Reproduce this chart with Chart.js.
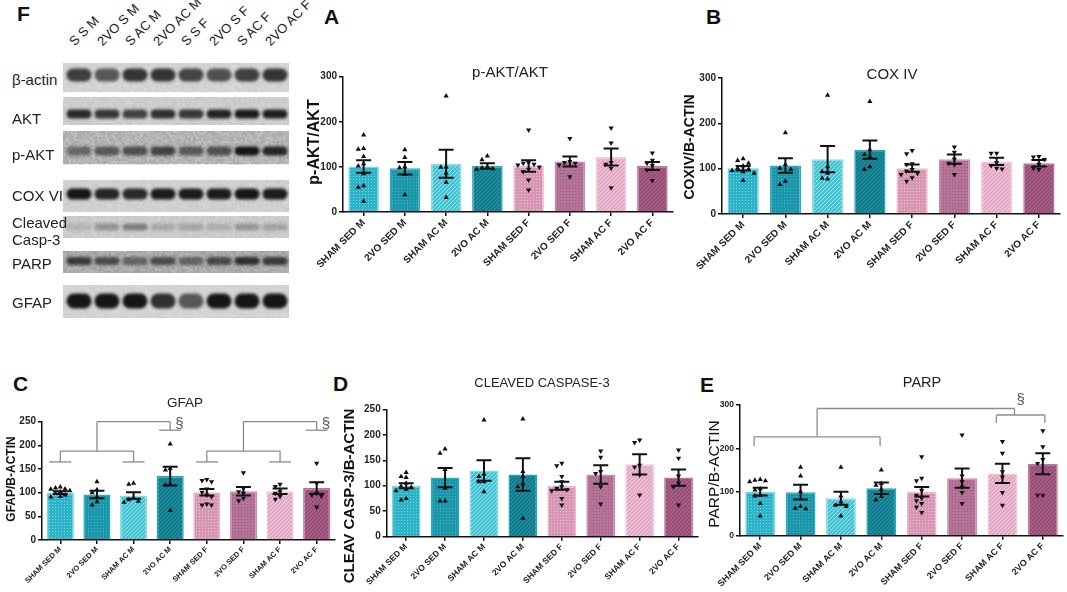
<!DOCTYPE html>
<html>
<head>
<meta charset="utf-8">
<script src="https://cdn.jsdelivr.net/npm/chart.js@4.4.1/dist/chart.umd.min.js"></script>
<style>
  body { margin: 0; width: 1067px; height: 592px; overflow: hidden; position: relative; background: #fff;
         font-family: "Liberation Sans", Arial, Helvetica, sans-serif; color: #111; }
  .box { position: absolute; }
  .letter { position: absolute; font-weight: bold; font-size: 21px; line-height: 1; }
  .lane { position: absolute; font-size: 13px; line-height: 13px; white-space: nowrap;
          transform: rotate(-45deg); transform-origin: 0 100%; color: #222; }
  .row { position: absolute; left: 12px; font-size: 15px; line-height: 17px; color: #222; }
</style>
</head>
<body>
<div class="letter" style="left:17px;top:3px">F</div>
<div class="letter" style="left:324px;top:6px">A</div>
<div class="letter" style="left:706px;top:6px">B</div>
<div class="letter" style="left:13px;top:373px">C</div>
<div class="letter" style="left:333px;top:373px">D</div>
<div class="letter" style="left:700px;top:374px">E</div>
<canvas id="blot" class="box" width="235" height="262" style="left:60px;top:60px"></canvas>

<script>
const groups = ['SHAM SED M', '2VO SED M', 'SHAM AC M', '2VO AC M', 'SHAM SED F', '2VO SED F', 'SHAM AC F', '2VO AC F'];

// A: p-AKT/AKT
const aktMean = [101, 97, 107, 102, 102, 112, 122, 102];
const aktSem = [14, 14, 31, 6, 13, 11, 19, 9];
const aktPts = [
  [171, 141, 139, 123, 107, 102, 85, 58, 55, 24],
  [138, 121, 100, 98, 83, 38],
  [257, 100, 99, 86, 66, 32],
  [124, 116, 100, 98, 96, 95],
  [182, 110, 108, 106, 104, 100, 95, 89, 71, 49],
  [163, 112, 110, 108, 104, 78],
  [186, 153, 110, 106, 97, 54],
  [131, 115, 108, 103, 93, 70]
];

// B: COX IV
const coxMean = [101, 107, 121, 142, 101, 121, 116, 112];
const coxSem = [5, 16, 29, 20, 8, 10, 8, 7];
const coxPts = [
  [122, 118, 112, 106, 101, 99, 96, 93, 90, 74],
  [179, 109, 101, 98, 72, 65],
  [262, 104, 94, 90, 79, 77],
  [248, 142, 131, 127, 104, 98],
  [140, 133, 111, 109, 98, 95, 90, 87, 80, 72],
  [148, 136, 121, 112, 109, 87],
  [134, 134, 113, 107, 101, 99],
  [127, 126, 120, 110, 101, 98]
];

// C: GFAP
const gfapMean = [100, 96, 94, 135, 101, 103, 103, 110];
const gfapSem = [3, 8, 7, 20, 7, 9, 6, 12];
const gfapPts = [
  [112, 110, 108, 107, 104, 102, 99, 95, 92, 91],
  [123, 106, 100, 91, 81, 74],
  [120, 118, 88, 85, 82, 80],
  [203, 151, 148, 118, 116, 63],
  [128, 126, 123, 108, 101, 95, 92, 76, 74, 74],
  [142, 109, 102, 99, 88, 83],
  [118, 113, 102, 99, 92, 86],
  [162, 120, 99, 95, 93, 70]
];

// D: cleaved caspase-3
const caspMean = [100, 116, 130, 122, 100, 122, 142, 116];
const caspSem = [5, 19, 20, 32, 8, 18, 20, 16];
const caspPts = [
  [126, 118, 116, 105, 99, 97, 93, 90, 75, 72],
  [172, 164, 132, 95, 70, 70],
  [229, 123, 118, 108, 108, 88],
  [231, 128, 118, 104, 98, 36],
  [144, 139, 118, 108, 98, 95, 92, 90, 75, 62],
  [168, 156, 128, 124, 98, 64],
  [190, 185, 140, 137, 121, 82],
  [170, 154, 119, 105, 98, 62]
];

// E: PARP
const parpMean = [101, 100, 86, 109, 101, 132, 143, 165];
const parpSem = [9, 17, 15, 13, 11, 22, 22, 24];
const parpPts = [
  [129, 127, 126, 124, 108, 105, 93, 91, 74, 45],
  [157, 137, 101, 67, 63, 62],
  [157, 91, 78, 70, 67, 45],
  [151, 120, 116, 106, 90, 82],
  [181, 132, 126, 104, 93, 86, 80, 74, 66, 53],
  [231, 137, 124, 112, 99, 74],
  [216, 189, 147, 135, 99, 70],
  [241, 204, 175, 166, 93, 93]
];

// significance brackets, [group index, value] -> [group index, value]
const gfapBrackets = [
  [-0.3, 165, 0.3, 165], [0, 165, 0, 188], [2, 165, 2, 188], [1.7, 165, 2.3, 165], [0, 188, 2, 188],
  [1, 188, 1, 250], [1, 250, 3, 250], [3, 250, 3, 232], [2.7, 232, 3.3, 232],
  [3.7, 165, 4.3, 165], [4, 165, 4, 188], [6, 165, 6, 188], [5.7, 165, 6.3, 165], [4, 188, 6, 188],
  [5, 188, 5, 250], [5, 250, 7, 250], [7, 250, 7, 232], [6.7, 232, 7.3, 232]
];
const gfapMarks = [[3.25, 246], [7.25, 246]];
const parpBrackets = [
  [-0.15, 206, -0.15, 227], [-0.15, 227, 2.97, 227], [2.97, 227, 2.97, 206], [1.41, 227, 1.41, 292],
  [1.41, 292, 6.3, 292], [6.3, 292, 6.3, 277], [5.85, 277, 7.05, 277], [5.85, 277, 5.85, 259], [7.05, 277, 7.05, 259]
];
const parpMarks = [[6.45, 311]];

const fam = '"Liberation Sans", Arial, Helvetica, sans-serif';

const palette = [
  { kind: 'dots', base: '#2bb4c7', mark: '#7dd3df', edge: '#72d6e3' },
  { kind: 'dots', base: '#1996aa', mark: '#48b2c2', edge: '#2fabbe' },
  { kind: 'stripes', base: '#41c3d3', mark: '#9ae3ec', edge: '#86dde8' },
  { kind: 'stripes', base: '#1a8b9d', mark: '#0f6b7a', edge: '#25a6b9' },
  { kind: 'dots', base: '#d795b4', mark: '#f2c6da', edge: '#ecb9cf' },
  { kind: 'dots', base: '#b5739a', mark: '#9a5a80', edge: '#c98cae' },
  { kind: 'stripes', base: '#e4a6c2', mark: '#f7d6e5', edge: '#f2c8da' },
  { kind: 'stripes', base: '#a65b85', mark: '#884569', edge: '#bb7399' }
];

function dots(ctx, base, mark) {
  const t = document.createElement('canvas');
  t.width = t.height = 3;
  const g = t.getContext('2d');
  g.fillStyle = base; g.fillRect(0, 0, 3, 3);
  g.fillStyle = mark; g.fillRect(1, 1, 1, 1);
  return ctx.createPattern(t, 'repeat');
}

function stripes(ctx, base, mark) {
  const t = document.createElement('canvas');
  t.width = t.height = 4;
  const g = t.getContext('2d');
  g.fillStyle = base; g.fillRect(0, 0, 4, 4);
  g.fillStyle = mark;
  for (let k = 0; k < 4; k++) g.fillRect(k, 3 - k, 1, 1);
  return ctx.createPattern(t, 'repeat');
}

// simple beeswarm: push close values sideways
function spread(vals, yMax) {
  const placed = [];
  const slots = [0, -0.13, 0.13, -0.26, 0.26, -0.36, 0.36];
  return vals.map(v => {
    const dx = slots.find(s => !placed.some(p => p.dx === s && Math.abs(p.v - v) < yMax * 0.04));
    const use = dx === undefined ? 0 : dx;
    placed.push({ v, dx: use });
    return use;
  });
}

function pointData(pts, yMax, female) {
  const out = [];
  pts.forEach((vals, i) => {
    if ((i >= 4) !== female) return;
    const dx = spread(vals, yMax);
    vals.forEach((v, k) => out.push({ x: i + dx[k], y: v }));
  });
  return out;
}

function makePanel(box, area, cfg) {
  const yw = area.l - box.x, pt = area.t - box.y, pr = box.x + box.w - area.r, xh = box.y + box.h - area.b;
  const cv = document.createElement('canvas');
  cv.className = 'box';
  cv.width = box.w; cv.height = box.h;
  cv.style.cssText = `left:${box.x}px;top:${box.y}px;width:${box.w}px;height:${box.h}px`;
  document.body.appendChild(cv);
  const ctx = cv.getContext('2d');
  const fills = palette.map(p => p.kind === 'dots' ? dots(ctx, p.base, p.mark) : stripes(ctx, p.base, p.mark));

  const overlay = {
    id: 'overlay',
    afterDatasetsDraw(chart) {
      const c = chart.ctx, xs = chart.scales.x, ys = chart.scales.y;
      c.save();
      c.strokeStyle = '#111';
      c.lineWidth = 2;
      cfg.mean.forEach((m, i) => {
        const px = xs.getPixelForValue(i);
        const top = ys.getPixelForValue(m + cfg.sem[i]), bot = ys.getPixelForValue(m - cfg.sem[i]);
        c.beginPath();
        c.moveTo(px, top); c.lineTo(px, bot);
        c.moveTo(px - 7.5, top); c.lineTo(px + 7.5, top);
        c.moveTo(px - 7.5, bot); c.lineTo(px + 7.5, bot);
        c.stroke();
      });
      c.strokeStyle = '#8c8c8c';
      c.lineWidth = 1.3;
      (cfg.brackets || []).forEach(s => {
        c.beginPath();
        c.moveTo(xs.getPixelForValue(s[0]), ys.getPixelForValue(s[1]));
        c.lineTo(xs.getPixelForValue(s[2]), ys.getPixelForValue(s[3]));
        c.stroke();
      });
      c.fillStyle = '#555';
      c.font = `15px ${fam}`;
      c.textAlign = 'center';
      c.textBaseline = 'middle';
      (cfg.marks || []).forEach(([i, v]) => c.fillText('§', xs.getPixelForValue(i), ys.getPixelForValue(v)));
      c.restore();
    },
    afterDraw(chart) {
      const c = chart.ctx;
      c.save();
      c.textAlign = 'center';
      c.textBaseline = 'middle';
      c.fillStyle = '#222';
      c.font = `${cfg.titleSize}px ${fam}`;
      c.fillText(cfg.title, cfg.titlePos[0] - box.x, cfg.titlePos[1] - box.y);
      c.translate(cfg.yTitlePos[0] - box.x, cfg.yTitlePos[1] - box.y);
      c.rotate(-Math.PI / 2);
      c.fillStyle = '#111';
      c.font = `${cfg.yTitleFont} ${fam}`;
      c.fillText(cfg.yTitle, 0, 0);
      c.restore();
    }
  };

  const pointStyle = { pointStyle: 'triangle', pointRadius: 3, backgroundColor: '#111', borderWidth: 0, order: 1, clip: false };

  new Chart(cv, {
    type: 'bar',
    data: {
      datasets: [
        { type: 'bar', data: cfg.mean.map((m, i) => ({ x: i, y: m })), backgroundColor: fills,
          borderColor: palette.map(p => p.edge), borderWidth: 1.5, barPercentage: 0.74, categoryPercentage: 1, order: 2 },
        Object.assign({ type: 'scatter', data: pointData(cfg.pts, cfg.yMax, false) }, pointStyle),
        Object.assign({ type: 'scatter', data: pointData(cfg.pts, cfg.yMax, true), rotation: 180 }, pointStyle)
      ]
    },
    options: {
      responsive: false,
      animation: false,
      layout: { padding: { top: pt, right: pr, left: 0, bottom: 0 } },
      plugins: { legend: { display: false }, tooltip: { enabled: false } },
      scales: {
        x: {
          type: 'linear', min: -0.5, max: 7.5, offset: false,
          afterBuildTicks: s => { s.ticks = groups.map((g, i) => ({ value: i })); },
          grid: { offset: false, drawOnChartArea: false, tickLength: 4, color: '#111', lineWidth: 1.5 },
          border: { color: '#111', width: 1.5 },
          ticks: { autoSkip: false, minRotation: 45, maxRotation: 45, padding: 1, color: '#222',
                   callback: (v, i) => groups[i],
                   font: { family: fam, weight: 'bold', size: cfg.xFont } },
          afterFit: s => { s.height = xh; }
        },
        y: {
          min: 0, max: cfg.yMax,
          ticks: { stepSize: cfg.step, padding: 2, color: '#222', font: { family: fam, weight: 'bold', size: cfg.yFont } },
          grid: { drawOnChartArea: false, tickLength: 4, color: '#111', lineWidth: 1.5 },
          border: { color: '#111', width: 1.5 },
          afterFit: s => { s.width = yw; }
        }
      }
    },
    plugins: [overlay]
  });
}

makePanel({ x: 295, y: 55, w: 385, h: 220 }, { l: 343, t: 76.7, r: 673, b: 212 }, {
  mean: aktMean, sem: aktSem, pts: aktPts, yMax: 300, step: 100, xFont: 10, yFont: 10,
  title: 'p-AKT/AKT', titleSize: 15, titlePos: [510, 73],
  yTitle: 'p-AKT/AKT', yTitleFont: 'bold 16px', yTitlePos: [315, 142]
});

makePanel({ x: 675, y: 55, w: 392, h: 220 }, { l: 722, t: 78, r: 1060, b: 214 }, {
  mean: coxMean, sem: coxSem, pts: coxPts, yMax: 300, step: 100, xFont: 10, yFont: 10,
  title: 'COX IV', titleSize: 15, titlePos: [892, 75],
  yTitle: 'COXIV/B-ACTIN', yTitleFont: 'bold 14px', yTitlePos: [690, 147]
});

makePanel({ x: 0, y: 395, w: 340, h: 197 }, { l: 42, t: 421.7, r: 335, b: 540 }, {
  mean: gfapMean, sem: gfapSem, pts: gfapPts, yMax: 250, step: 50, xFont: 7.5, yFont: 10,
  title: 'GFAP', titleSize: 13.5, titlePos: [185, 403],
  yTitle: 'GFAP/B-ACTIN', yTitleFont: 'bold 12px', yTitlePos: [12, 479],
  brackets: gfapBrackets, marks: gfapMarks
});

makePanel({ x: 340, y: 375, w: 362, h: 217 }, { l: 386.7, t: 409.3, r: 698, b: 536.7 }, {
  mean: caspMean, sem: caspSem, pts: caspPts, yMax: 250, step: 50, xFont: 8.5, yFont: 10,
  title: 'CLEAVED CASPASE-3', titleSize: 13, titlePos: [542, 383],
  yTitle: 'CLEAV CASP-3/B-ACTIN', yTitleFont: 'bold 15px', yTitlePos: [350, 496]
});

makePanel({ x: 702, y: 375, w: 365, h: 217 }, { l: 740, t: 405, r: 1065, b: 535.7 }, {
  mean: parpMean, sem: parpSem, pts: parpPts, yMax: 300, step: 100, xFont: 9, yFont: 8.5,
  title: 'PARP', titleSize: 14.5, titlePos: [922, 383],
  yTitle: 'PARP/B-ACTIN', yTitleFont: '15.5px', yTitlePos: [715, 474],
  brackets: parpBrackets, marks: parpMarks
});

// panel F: western blot strips (picture, not data)
const lanes = ['S S M', '2VO S M', 'S AC M', '2VO AC M', 'S S F', '2VO S F', 'S AC F', '2VO AC F'];
const blotRows = [
  { label: 'β-actin', ly: 79, y0: 63, y1: 92, band: 75, bh: 13, bg: '#d9d9d9', grain: 0.05, ink: [0.75, 0.62, 0.8, 0.8, 0.72, 0.66, 0.74, 0.8] },
  { label: 'AKT', ly: 118, y0: 97, y1: 125, band: 114, bh: 9, bg: '#d4d4d4', grain: 0.06, ink: [0.85, 0.78, 0.72, 0.82, 0.78, 0.88, 0.92, 0.9] },
  { label: 'p-AKT', ly: 154, y0: 131, y1: 164, band: 151, bh: 9, bg: '#c2c2c2', grain: 0.14, ink: [0.45, 0.55, 0.6, 0.68, 0.55, 0.6, 0.95, 0.85] },
  { label: 'COX VI', ly: 195, y0: 180, y1: 212, band: 194, bh: 11, bg: '#d6d6d6', grain: 0.05, ink: [0.95, 0.88, 0.85, 0.92, 0.92, 0.92, 0.95, 0.92] },
  { label: 'Cleaved<br>Casp-3', ly: 231, y0: 216, y1: 238, band: 227, bh: 7, bg: '#d2d2d2', grain: 0.06, ink: [0.12, 0.28, 0.4, 0.18, 0.2, 0.16, 0.28, 0.22] },
  { label: 'PARP', ly: 263, y0: 251, y1: 273, band: 261, bh: 8, bg: '#b8b8b8', grain: 0.14, ink: [0.7, 0.6, 0.45, 0.6, 0.45, 0.62, 0.78, 0.72] },
  { label: 'GFAP', ly: 302, y0: 285, y1: 318, band: 301, bh: 15, bg: '#d8d8d8', grain: 0.04, ink: [0.95, 0.95, 0.95, 0.82, 0.62, 0.95, 0.95, 0.95] }
];

function drawBlot() {
  const g = document.getElementById('blot').getContext('2d');
  g.translate(-60, -60);
  blotRows.forEach(r => {
    g.fillStyle = r.bg;
    g.fillRect(63, r.y0, 226, r.y1 - r.y0);
    for (let y = r.y0; y < r.y1; y += 2) {
      for (let x = 63; x < 289; x += 2) {
        const h = Math.abs(Math.sin(x * 12.9898 + y * 78.233) * 43758.5453) % 1;
        g.fillStyle = `rgba(0,0,0,${(h * r.grain).toFixed(3)})`;
        g.fillRect(x, y, 2, 2);
      }
    }
    g.save();
    g.filter = 'blur(1.6px)';
    r.ink.forEach((d, i) => {
      const cx = 79 + 28 * i;
      g.fillStyle = `rgba(12,12,12,${d})`;
      g.beginPath();
      g.roundRect(cx - 12.5, r.band - r.bh / 2, 25, r.bh, r.bh / 2);
      g.fill();
    });
    g.restore();

    const div = document.createElement('div');
    div.className = 'row';
    div.innerHTML = r.label;
    const lines = r.label.split('<br>').length;
    div.style.top = (r.ly - lines * 8.5) + 'px';
    document.body.appendChild(div);
  });

  lanes.forEach((name, i) => {
    const div = document.createElement('div');
    div.className = 'lane';
    div.textContent = name;
    div.style.left = (79 + 28 * i - 3) + 'px';
    div.style.top = '35px';
    document.body.appendChild(div);
  });
}

drawBlot();
</script>
</body>
</html>
